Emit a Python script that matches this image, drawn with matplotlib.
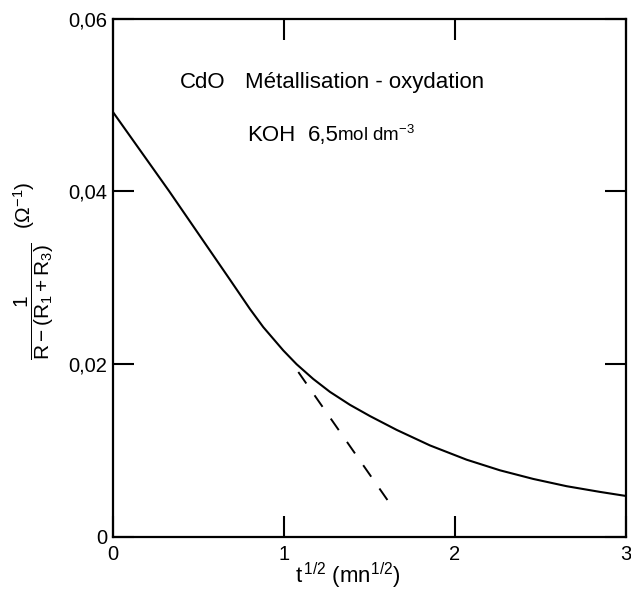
import matplotlib
matplotlib.use("Agg")
import matplotlib.pyplot as plt

# Font giống Helvetica
plt.rcParams['font.family'] = ['Liberation Sans', 'DejaVu Sans']
plt.rcParams['mathtext.fontset'] = 'custom'
plt.rcParams['mathtext.rm'] = 'Liberation Sans'
plt.rcParams['mathtext.it'] = 'Liberation Sans:italic'
plt.rcParams['mathtext.bf'] = 'Liberation Sans:bold'

# ====================== Dữ liệu ======================
# Đường liền: 1/(R-(R1+R3)) theo t^1/2
t_courbe = [0.0, 0.33, 0.684, 0.801, 0.879, 0.996, 1.074, 1.171, 1.269, 1.386,
            1.503, 1.659, 1.854, 2.068, 2.263, 2.458, 2.653, 2.848, 3.0]
g_courbe = [0.0492, 0.0400, 0.0298, 0.0264, 0.0243, 0.0216, 0.0200, 0.0183, 0.0168, 0.0153,
            0.0140, 0.0124, 0.0106, 0.00895, 0.00772, 0.00672, 0.00588, 0.00522, 0.00475]

# Đường nét đứt (ngoại suy phần thẳng)
t_tiret = [1.084, 1.608]
g_tiret = [0.0191, 0.0042]

x_ticks = [0, 1, 2, 3]
x_labels = ['0', '1', '2', '3']
y_ticks = [0, 0.02, 0.04, 0.06]
y_labels = ['0', '0,02', '0,04', '0,06']

# ====================== Vẽ ======================
fig = plt.figure(figsize=(6.31, 5.95), dpi=100)
ax = fig.add_axes([0.179, 0.0975, 0.813, 0.871])

ax.plot(t_courbe, g_courbe, color='black', lw=1.5)
ax.plot(t_tiret, g_tiret, color='black', lw=1.4, dashes=(7.2, 7.4))

ax.set_xlim(0, 3)
ax.set_ylim(0, 0.06)
ax.set_xticks(x_ticks)
ax.set_xticklabels(x_labels)
ax.set_yticks(y_ticks)
ax.set_yticklabels(y_labels)
ax.tick_params(direction='in', length=15, width=1.5, top=True, right=True,
               labelsize=14.5)
ax.tick_params(axis='x', pad=6)
ax.tick_params(axis='y', pad=4)
for s in ax.spines.values():
    s.set_linewidth(1.6)

# Nhãn trục x
fig.text(295 / 631, 1 - 576 / 595, r't$^{\,1/2}$ (mn$^{1/2}$)', fontsize=16,
         ha='left', va='center')

# Nhãn trục y
fig.text(0.055, 0.493, r'$\dfrac{1}{\mathrm{R-(R_1+R_3)}}$', rotation=90,
         fontsize=15, ha='center', va='center')
fig.text(0.038, 0.655, r'($\Omega^{-1}$)', rotation=90,
         fontsize=15, ha='center', va='center')

# Chú thích
ax.text(0.392, 0.0520, 'CdO', fontsize=16, ha='left', va='baseline')
ax.text(0.772, 0.0520, 'Métallisation - oxydation', fontsize=16,
        ha='left', va='baseline')
ax.text(0.784, 0.0459, 'KOH', fontsize=16, ha='left', va='baseline')
ax.text(1.14, 0.0459, '6,5', fontsize=16, ha='left', va='baseline')
ax.text(1.31, 0.0459, r'mol dm$^{-3}$', fontsize=13.5, ha='left', va='baseline')

fig.savefig('out.png', dpi=100)
